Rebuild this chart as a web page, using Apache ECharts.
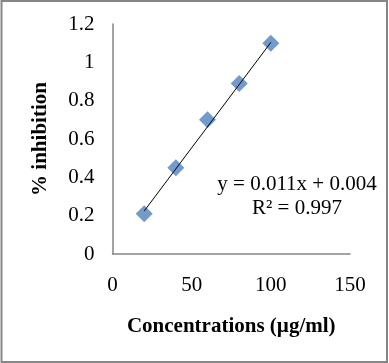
<!DOCTYPE html>
<html>
<head>
<meta charset="utf-8">
<script src="https://cdn.jsdelivr.net/npm/echarts@6/dist/echarts.min.js"></script>
<style>
html,body{margin:0;padding:0;background:#fff;}
#c{width:389px;height:363px;}
</style>
</head>
<body>
<div id="c"></div>
<script>
const concentrations = [20, 40, 60, 80, 100];
const inhibition = [0.21, 0.45, 0.70, 0.89, 1.10];
const trendX = [20, 100];
const trendY = [0.224, 1.104];
const xTicks = [0, 50, 100, 150];
const yTicks = [0, 0.2, 0.4, 0.6, 0.8, 1, 1.2];
const equationText = 'y = 0.011x + 0.004';
const r2Text = 'R\u00B2 = 0.997';

const FONT = '"Liberation Serif", "Times New Roman", serif';
const chart = echarts.init(document.getElementById('c'), null, {renderer: 'canvas'});
chart.setOption({
  animation: false,
  backgroundColor: '#fff',
  grid: {left: 112.5, right: 39, top: 24, bottom: 109, containLabel: false},
  xAxis: {
    type: 'value', min: xTicks[0], max: xTicks[xTicks.length - 1], interval: 50,
    name: 'Concentrations (\u00B5g/ml)', nameLocation: 'middle', nameGap: 62,
    nameTextStyle: {fontFamily: FONT, fontWeight: 'bold', fontSize: 21, color: '#000'},
    axisLine: {show: true, onZero: false, lineStyle: {color: '#868686', width: 1.5}},
    axisTick: {show: false},
    splitLine: {show: false},
    axisLabel: {fontFamily: FONT, fontSize: 21, color: '#000', margin: 21}
  },
  yAxis: {
    type: 'value', min: yTicks[0], max: yTicks[yTicks.length - 1], interval: 0.2,
    name: '% inhibition', nameLocation: 'middle', nameGap: 61, nameRotate: 90,
    nameTextStyle: {fontFamily: FONT, fontWeight: 'bold', fontSize: 21, color: '#000'},
    axisLine: {show: true, onZero: false, lineStyle: {color: '#868686', width: 1.5}},
    axisTick: {show: false},
    splitLine: {show: false},
    axisLabel: {fontFamily: FONT, fontSize: 21, color: '#000', margin: 18}
  },
  series: [
    {
      type: 'line',
      data: trendX.map((x, i) => [x, trendY[i]]),
      symbol: 'none',
      lineStyle: {color: '#000', width: 1},
      z: 3
    },
    {
      type: 'scatter',
      data: concentrations.map((x, i) => [x, inhibition[i]]),
      symbol: 'diamond',
      symbolSize: [17, 17],
      itemStyle: {color: '#4f81bd'},
      z: 2
    }
  ],
  graphic: [
    {type: 'rect', shape: {x: 1.5, y: 1, width: 385.5, height: 361}, style: {fill: 'none', stroke: '#868686', lineWidth: 2}, silent: true},
    {type: 'text', x: 297, y: 184, style: {text: equationText, font: '21px ' + FONT, fill: '#000', textAlign: 'center', textVerticalAlign: 'middle'}},
    {type: 'text', x: 297, y: 208, style: {text: r2Text, font: '21px ' + FONT, fill: '#000', textAlign: 'center', textVerticalAlign: 'middle'}}
  ]
});
</script>
</body>
</html>
